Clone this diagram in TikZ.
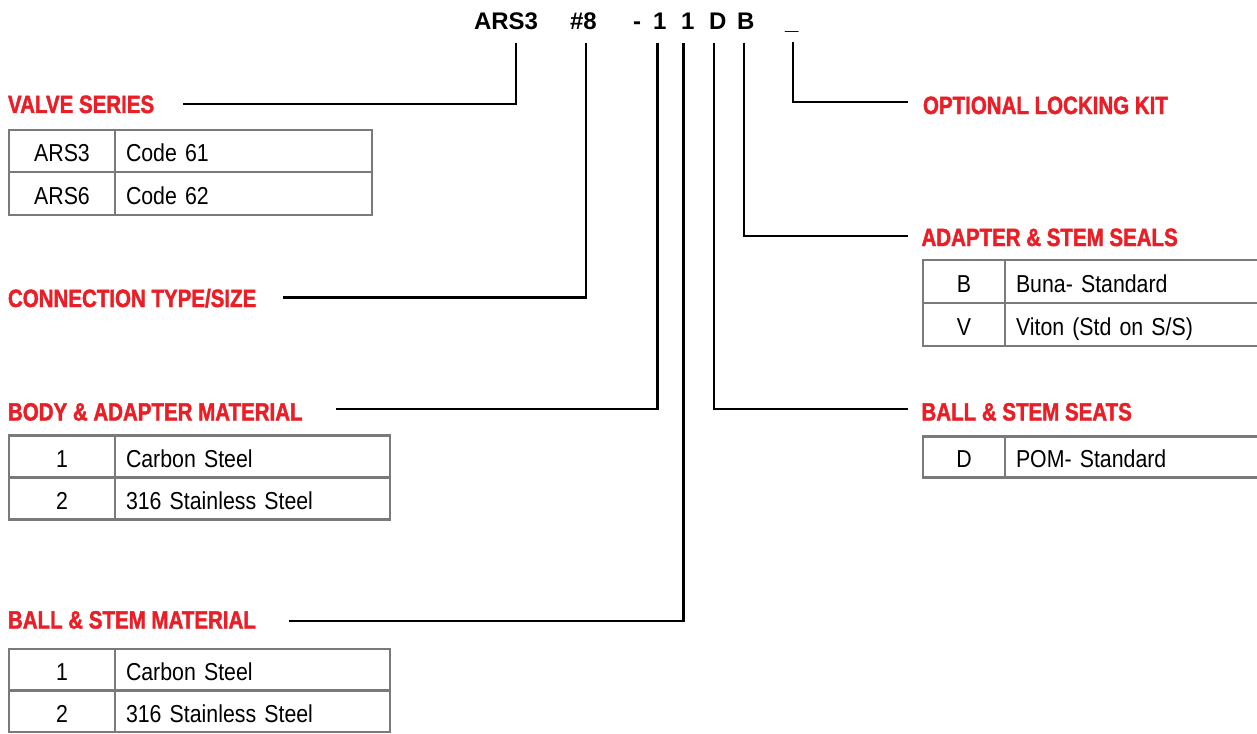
\documentclass[tikz,border=0pt]{standalone}
\usepackage{fontspec}
\setmainfont{Liberation Sans}
\newfontfamily\labfont[FakeStretch=0.82,FakeBold=1.6]{Liberation Sans}
\newfontfamily\cellfont[FakeStretch=0.87]{Liberation Sans}
\definecolor{lred}{RGB}{234,30,38}
\definecolor{bgray}{RGB}{122,122,122}
\tikzset{
  hdr/.style={anchor=base west, inner sep=0pt, outer sep=0pt, font=\fontsize{24}{24}\selectfont\bfseries},
  lab/.style={anchor=base west, inner sep=0pt, outer sep=0pt, text=lred, font=\labfont\fontsize{25}{25}\selectfont\bfseries},
  conn/.style={line width=2.5pt, black},
  cell/.style={draw=bgray, line width=2.4pt, anchor=north west, inner sep=0pt, outer sep=0pt,
    text height=21.5pt, text depth=0pt, font=\cellfont\fontsize{24.5}{24.5}\selectfont},
  cellc/.style 2 args={cell, minimum width=#1, minimum height=#2, align=center},
  celll/.style 2 args={cell, text width=#1, inner xsep=11pt, minimum height=#2, align=left}
}
\begin{document}
\begin{tikzpicture}[x=1pt,y=-1pt]
\useasboundingbox (0,0) rectangle (1257,733);

% header code
\node[hdr] (hA) at (474,30) {ARS3};
\node[hdr] (hB) at (570,30) {\#8};
\node[hdr] (hC) at (633,30) {-};
\node[hdr] (hD) at (653,30) {1};
\node[hdr] (hE) at (681,30) {1};
\node[hdr] (hF) at (709,30) {D};
\node[hdr] (hG) at (737,30) {B};
\node[hdr] (hH) at (785,30) {\_};

% red labels
\node[lab] (lVS) at (8,113) {VALVE SERIES};
\node[lab] (lCT) at (8,307) {CONNECTION TYPE/SIZE};
\node[lab] (lBA) at (8,420.5) {BODY \& ADAPTER MATERIAL};
\node[lab] (lBM) at (8,628.5) {BALL \& STEM MATERIAL};
\node[lab] (lOL) at (923,114) {OPTIONAL LOCKING KIT};
\node[lab] (lAS) at (921.5,246) {ADAPTER \& STEM SEALS};
\node[lab] (lBS) at (921.5,420.5) {BALL \& STEM SEATS};

% connector points
\coordinate (tA) at (516,43);  \coordinate (eA) at (183,104);
\coordinate (tB) at (586,43);  \coordinate (eB) at (283,297.5);
\coordinate (tC) at (657.5,43);  \coordinate (eC) at (336,409);
\coordinate (tD) at (683.5,43);  \coordinate (eD) at (289,621);
\coordinate (tE) at (714,43);  \coordinate (eE) at (908,409);
\coordinate (tF) at (744,43);  \coordinate (eF) at (908,236);
\coordinate (tG) at (793,42);  \coordinate (eG) at (908,102);

\draw[conn] (tA) |- (eA);
\draw[conn] (tB) |- (eB);
\draw[conn] (tC) |- (eC);
\draw[conn] (tD) |- (eD);
\draw[conn] (tE) |- (eE);
\draw[conn] (tF) |- (eF);
\draw[conn] (tG) |- (eG);

% valve series table
\node[cellc={106pt}{42pt}] (vs1a) at (9,130) {ARS3};
\node[celll={235pt}{42pt}] (vs1b) at (115,130) {Code 61};
\node[cellc={106pt}{43pt}] (vs2a) at (9,172) {ARS6};
\node[celll={235pt}{43pt}] (vs2b) at (115,172) {Code 62};

% body & adapter table
\node[cellc={106pt}{42pt}] (ba1a) at (9,435.5) {1};
\node[celll={253pt}{42pt}] (ba1b) at (115,435.5) {Carbon Steel};
\node[cellc={106pt}{42pt}] (ba2a) at (9,477.5) {2};
\node[celll={253pt}{42pt}] (ba2b) at (115,477.5) {316 Stainless Steel};

% ball & stem material table
\node[cellc={106pt}{41.5pt}] (bm1a) at (9,649) {1};
\node[celll={253pt}{41.5pt}] (bm1b) at (115,649) {Carbon Steel};
\node[cellc={106pt}{41.5pt}] (bm2a) at (9,690.5) {2};
\node[celll={253pt}{41.5pt}] (bm2b) at (115,690.5) {316 Stainless Steel};

% adapter & stem seals table
\node[cellc={82pt}{43pt}] (as1a) at (923,260) {B};
\node[celll={248pt}{43pt}] (as1b) at (1005,260) {Buna- Standard};
\node[cellc={82pt}{43pt}] (as2a) at (923,303) {V};
\node[celll={248pt}{43pt}] (as2b) at (1005,303) {Viton (Std on S/S)};

% ball & stem seats table
\node[cellc={82pt}{41pt}] (bs1a) at (923,436.5) {D};
\node[celll={248pt}{41pt}] (bs1b) at (1005,436.5) {POM- Standard};
\end{tikzpicture}
\end{document}
